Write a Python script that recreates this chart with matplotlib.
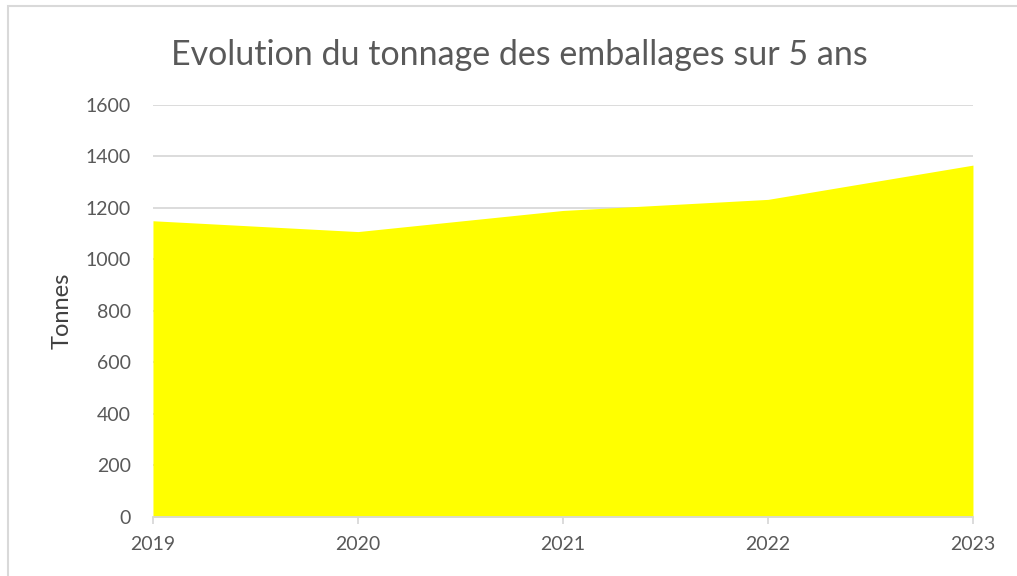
import matplotlib.pyplot as plt
from matplotlib.patches import Rectangle

# donnees
annees = [2019, 2020, 2021, 2022, 2023]
tonnes = [1150, 1108, 1190, 1233, 1366]
y_ticks = [0, 200, 400, 600, 800, 1000, 1200, 1400, 1600]

plt.rcParams['font.family'] = ['Lato', 'DejaVu Sans']

fig = plt.figure(figsize=(10.17, 5.76), dpi=100)
ax = fig.add_axes([0.1504, 0.1024, 0.8063, 0.7156])

ax.fill_between(annees, tonnes, 0, color='#ffff00', linewidth=0, zorder=2)

ax.set_xlim(annees[0], annees[-1])
ax.set_ylim(0, 1600)
ax.set_xticks(annees)
ax.set_yticks(y_ticks)
ax.grid(axis='y', color='#d9d9d9', linewidth=1.3, zorder=0)

for s in ['top', 'right', 'left']:
    ax.spines[s].set_visible(False)
ax.spines['bottom'].set_color('#d9d9d9')
ax.spines['bottom'].set_linewidth(1.3)
ax.spines['bottom'].set_zorder(3)

ax.tick_params(axis='y', length=0, pad=16, labelsize=14, labelcolor='#595959')
ax.tick_params(axis='x', length=5, color='#d9d9d9', width=1.3, pad=9,
               labelsize=14, labelcolor='#595959')

ax.set_ylabel('Tonnes', fontsize=17, color='#404040', labelpad=9)
fig.text(0.511, 0.905, 'Evolution du tonnage des emballages sur 5 ans',
         ha='center', va='center', fontsize=24.5, color='#595959')

# cadre du graphique
fig.patches.append(Rectangle((8 / 1017, -0.1), 1.2, 1 - 6 / 576 + 0.1,
                             transform=fig.transFigure, fill=False,
                             edgecolor='#d9d9d9', linewidth=1.5))

fig.savefig('out.png', dpi=100)
